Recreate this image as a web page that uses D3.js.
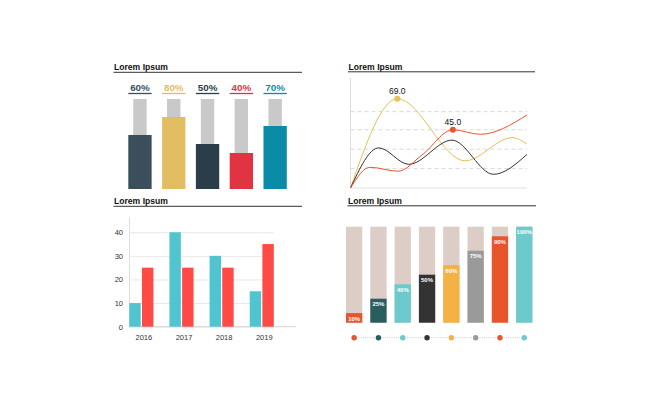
<!DOCTYPE html>
<html>
<head>
<meta charset="utf-8">
<script src="https://cdn.jsdelivr.net/npm/d3@7"></script>
<style>
  body { margin: 0; background: #fff; }
  svg { display: block; }
  text { font-family: "Liberation Sans", Arial, sans-serif; }
</style>
</head>
<body>
<svg id="chart" width="650" height="397"></svg>
<script>
// --- data ---
const titles = ["Lorem Ipsum", "Lorem Ipsum", "Lorem Ipsum", "Lorem Ipsum"];

// top left: progress bars
const progLabels = ["60%", "80%", "50%", "40%", "70%"];
const progValues = [60, 80, 50, 40, 70];
const progColors = ["#3a4e5c", "#e2bd62", "#2a3d49", "#e23342", "#0a8ca8"];

// top right: curves (x on 0..100)
const yellowX = [0, 26.5, 65, 91.5, 100];
const yellowY = [0, 69, 21, 39, 34];
const redX = [0, 11, 27, 40.5, 58, 73.5, 100];
const redY = [0, 16, 13, 25.5, 45, 41.5, 56.4];
const blackX = [0, 16, 33, 57.5, 81, 100];
const blackY = [0, 31, 18.3, 37, 10.6, 26];
const curveGrid = [15, 30, 45, 59];
const curveMarks = [{x: 26.5, y: 69, label: "69.0", color: "#e9bf5a"}, {x: 58, y: 45, label: "45.0", color: "#f0522e"}];

// bottom left: grouped bars
const years = ["2016", "2017", "2018", "2019"];
const seriesA = [10, 40, 30, 15];
const seriesB = [25, 25, 25, 35];
const yTicks = [0, 10, 20, 30, 40];

// bottom right: stacked percent bars
const pctValues = [10, 25, 40, 50, 60, 75, 90, 100];
const pctColors = ["#e8552b", "#285e5f", "#6ccacc", "#333333", "#f4b244", "#9a9a9a", "#e8552b", "#6ccacc"];

const svg = d3.select("#chart");

function title(t, x, y, x2) {
  svg.append("text").attr("x", x).attr("y", y)
    .attr("font-size", 8.6).attr("font-weight", "bold").attr("fill", "#111").text(t);
  svg.append("line").attr("x1", x - 0.5).attr("x2", x2).attr("y1", y + 2.3).attr("y2", y + 2.3)
    .attr("stroke", "#333").attr("stroke-width", 1);
}

title(titles[0], 114, 70, 302);
title(titles[1], 348.5, 69.5, 535);
title(titles[2], 114, 204, 302);
title(titles[3], 348, 203.5, 536);

// ---------- panel 1 ----------
const x1 = d3.scaleBand().domain(progLabels).range([128.3, 286.8]).paddingInner(0.31).paddingOuter(0);
const y1 = d3.scaleLinear().domain([0, 100]).range([189, 99]);
const g1 = svg.append("g");
const bw1 = x1.bandwidth();

g1.selectAll(".bg").data(progLabels).enter().append("rect")
  .attr("x", d => x1(d) + bw1 / 2 - 6.7).attr("width", 13.4)
  .attr("y", y1(100)).attr("height", y1(0) - y1(100)).attr("fill", "#c9c9c9");

g1.selectAll(".fg").data(progValues).enter().append("rect")
  .attr("x", (d, i) => x1(progLabels[i])).attr("width", bw1)
  .attr("y", d => y1(d)).attr("height", d => y1(0) - y1(d))
  .attr("fill", (d, i) => progColors[i]);

g1.selectAll(".lbl").data(progLabels).enter().append("text")
  .attr("x", d => x1(d) + bw1 / 2).attr("y", 90.7).attr("text-anchor", "middle")
  .attr("font-family", "Lato, sans-serif").attr("font-weight", "bold")
  .attr("font-size", 9.8).attr("fill", (d, i) => progColors[i]).text(d => d);

g1.selectAll(".ul").data(progLabels).enter().append("line")
  .attr("x1", d => x1(d)).attr("x2", d => x1(d) + bw1).attr("y1", 93.5).attr("y2", 93.5)
  .attr("stroke", (d, i) => progColors[i]).attr("stroke-width", 1.3);

// ---------- panel 2 ----------
const x2 = d3.scaleLinear().domain([0, 100]).range([350.5, 527]);
const y2 = d3.scaleLinear().domain([0, 85]).range([188, 78]);
const g2 = svg.append("g");

g2.selectAll(".grid").data(curveGrid).enter().append("line")
  .attr("x1", x2(0)).attr("x2", x2(100)).attr("y1", d => y2(d)).attr("y2", d => y2(d))
  .attr("stroke", "#cfcfcf").attr("stroke-width", 0.8).attr("stroke-dasharray", "4,3");
g2.append("line").attr("x1", x2(0)).attr("x2", x2(0)).attr("y1", y2(85)).attr("y2", y2(0))
  .attr("stroke", "#ddd");
g2.append("line").attr("x1", x2(0)).attr("x2", x2(100)).attr("y1", y2(0)).attr("y2", y2(0))
  .attr("stroke", "#e2e2e2");

const line2 = d3.line().x(d => x2(d[0])).y(d => y2(d[1])).curve(d3.curveMonotoneX);
[[yellowX, yellowY, "#e9bf5a"], [blackX, blackY, "#333"], [redX, redY, "#f0522e"]].forEach(([xs, ys, c]) => {
  g2.append("path").datum(d3.zip(xs, ys)).attr("d", line2)
    .attr("fill", "none").attr("stroke", c).attr("stroke-width", 1);
});

g2.selectAll(".mark").data(curveMarks).enter().append("circle")
  .attr("cx", d => x2(d.x)).attr("cy", d => y2(d.y)).attr("r", 3).attr("fill", d => d.color);
g2.selectAll(".mlbl").data(curveMarks).enter().append("text")
  .attr("x", d => x2(d.x)).attr("y", d => y2(d.y) - 5).attr("text-anchor", "middle")
  .attr("font-size", 8.5).attr("fill", "#111").text(d => d.label);

// ---------- panel 3 ----------
const x3 = d3.scaleBand().domain(years).range([129.3, 273.8]).paddingInner(0.4).paddingOuter(0);
const x3in = d3.scaleBand().domain([0, 1]).range([0, x3.bandwidth()]).paddingInner(0.1);
const y3 = d3.scaleLinear().domain([0, 46.5]).range([326.7, 216.9]);
const g3 = svg.append("g");

const ax3 = g3.append("g").attr("transform", "translate(129,0)")
  .call(d3.axisLeft(y3).tickValues(yTicks).tickSize(-144.5).tickSizeOuter(0).tickPadding(6));
ax3.select(".domain").attr("stroke", "#ddd");
ax3.selectAll(".tick line").attr("stroke", "#e8e8e8");
ax3.selectAll(".tick text").attr("font-size", 7.5).attr("fill", "#333")
  .attr("font-family", "'Liberation Sans', Arial, sans-serif");

g3.append("line").attr("x1", 129).attr("x2", 296).attr("y1", y3(0)).attr("y2", y3(0))
  .attr("stroke", "#d5d5d5");

g3.selectAll(".a").data(seriesA).enter().append("rect")
  .attr("x", (d, i) => x3(years[i]) + x3in(0)).attr("width", x3in.bandwidth())
  .attr("y", d => y3(d)).attr("height", d => y3(0) - y3(d)).attr("fill", "#50c4cf");
g3.selectAll(".b").data(seriesB).enter().append("rect")
  .attr("x", (d, i) => x3(years[i]) + x3in(1)).attr("width", x3in.bandwidth())
  .attr("y", d => y3(d)).attr("height", d => y3(0) - y3(d)).attr("fill", "#ff4a45");

g3.selectAll(".yl").data(years).enter().append("text")
  .attr("x", d => x3(d) + x3.bandwidth() / 2 + 2.5).attr("y", 340).attr("text-anchor", "middle")
  .attr("font-size", 7.5).attr("fill", "#333").text(d => d);

// ---------- panel 4 ----------
const x4 = d3.scaleBand().domain(d3.range(pctValues.length)).range([346, 532.4]).paddingInner(0.33).paddingOuter(0);
const y4 = d3.scaleLinear().domain([0, 100]).range([322.7, 226.7]);
const g4 = svg.append("g");
const bw4 = x4.bandwidth();

g4.selectAll(".bg").data(pctValues).enter().append("rect")
  .attr("x", (d, i) => x4(i)).attr("width", bw4)
  .attr("y", y4(100)).attr("height", y4(0) - y4(100)).attr("fill", "#dccdc7");
g4.selectAll(".fg").data(pctValues).enter().append("rect")
  .attr("x", (d, i) => x4(i)).attr("width", bw4)
  .attr("y", d => y4(d)).attr("height", d => y4(0) - y4(d)).attr("fill", (d, i) => pctColors[i]);
g4.selectAll(".pl").data(pctValues).enter().append("text")
  .attr("x", (d, i) => x4(i) + bw4 / 2).attr("y", d => y4(d) + 5.5)
  .attr("dominant-baseline", "central").attr("text-anchor", "middle")
  .attr("font-size", 6).attr("font-weight", "bold").attr("fill", "#fff").text(d => d + "%");

g4.append("line").attr("x1", x4(0) + bw4 / 2).attr("x2", x4(pctValues.length - 1) + bw4 / 2)
  .attr("y1", 337.7).attr("y2", 337.7)
  .attr("stroke", "#bbb").attr("stroke-width", 0.8).attr("stroke-dasharray", "1,1.2");
g4.selectAll(".dot").data(pctValues).enter().append("circle")
  .attr("cx", (d, i) => x4(i) + bw4 / 2).attr("cy", 337.7).attr("r", 2.7)
  .attr("fill", (d, i) => pctColors[i]);
</script>
</body>
</html>
